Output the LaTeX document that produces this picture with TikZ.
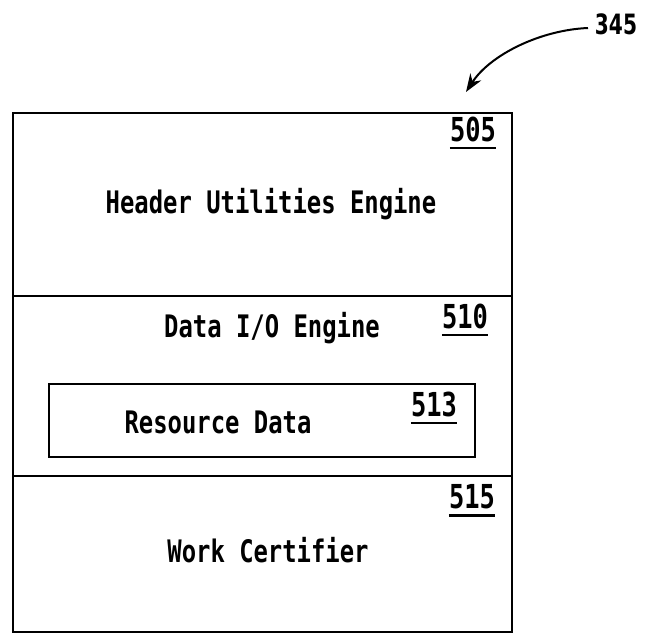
\documentclass[tikz,border=0pt]{standalone}
\usepackage{fontspec}
\newfontfamily\patfont[FakeStretch=0.77]{DejaVu Sans Mono Bold}
\newfontfamily\reffont[FakeStretch=0.72]{DejaVu Sans Bold}
\usetikzlibrary{arrows.meta}
\begin{document}
\begin{tikzpicture}[x=1pt,y=-1pt,
  sect/.style={draw, line width=2.5pt, anchor=north west, inner sep=0pt, outer sep=0pt, minimum width=499pt},
  inbox/.style={draw, line width=2.5pt, anchor=north west, inner sep=0pt, outer sep=0pt},
  lbl/.style={font=\patfont\fontsize{31}{31}\selectfont, inner sep=0pt},
  num/.style={font=\patfont\fontsize{33}{33}\selectfont, inner sep=0pt},
  uline/.style={line width=2.2pt}]
\useasboundingbox (0,0) rectangle (645,635);
% sections
\node[sect, minimum height=183pt] (s505) at (13,113) {};
\node[sect, minimum height=180pt] (s510) at (13,296) {};
\node[sect, minimum height=156pt] (s515) at (13,476) {};
\node[inbox, minimum width=426pt, minimum height=73pt] (s513) at (49,384) {};
% texts
\node[lbl] (t505) at (271,204) {Header Utilities Engine};
\node[lbl] (t510) at (272,328) {Data I/O Engine};
\node[lbl] (t513) at (218,422) {Resource Data};
\node[lbl] (t515) at (268,550) {Work Certifier};
% reference numbers
\node[num] (n505) at (473,129) {505};
\draw[uline] ([yshift=-6pt]n505.south west) -- ([yshift=-6pt]n505.south east);
\node[num] (n510) at (465,316) {510};
\draw[uline] ([yshift=-6pt]n510.south west) -- ([yshift=-6pt]n510.south east);
\node[num] (n513) at (434,404) {513};
\draw[uline] ([yshift=-6pt]n513.south west) -- ([yshift=-6pt]n513.south east);
\node[num] (n515) at (472,497) {515};
\draw[uline] ([yshift=-6pt]n515.south west) -- ([yshift=-6pt]n515.south east);
% 345 label and arrow
\node[font=\reffont\fontsize{28}{28}\selectfont, inner sep=0pt] (n345) at (616,24) {345};
\coordinate (a0) at (588,28);
\coordinate (a1) at (466,92);
\draw[line width=2pt, -{Stealth[length=18pt,width=13pt]}] (a0) .. controls (540,30) and (490,55) .. (a1);
\end{tikzpicture}
\end{document}
